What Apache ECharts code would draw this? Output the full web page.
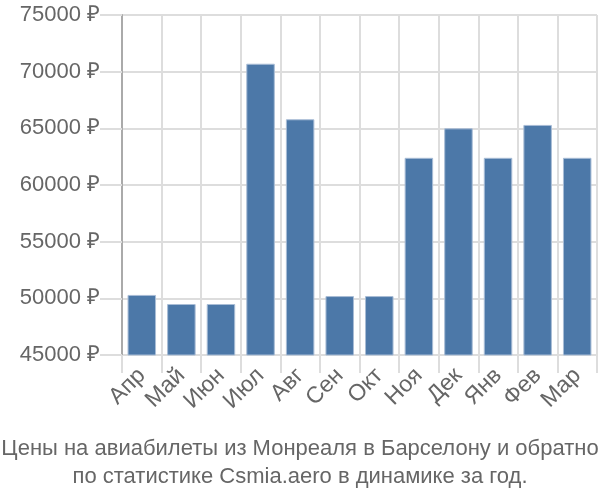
<!DOCTYPE html>
<html>
<head>
<meta charset="utf-8">
<script src="https://cdn.jsdelivr.net/npm/echarts@6/dist/echarts.min.js"></script>
<style>html,body{margin:0;padding:0;background:#fff}#c{width:600px;height:500px}</style>
</head>
<body>
<div id="c"></div>
<script>
const categories = ["Апр","Май","Июн","Июл","Авг","Сен","Окт","Ноя","Дек","Янв","Фев","Мар"];
const prices = [50300,49500,49500,70700,65800,50200,50200,62400,65000,62400,65300,62400];
const titleLines = ["Цены на авиабилеты из Монреаля в Барселону и обратно","по статистике Csmia.aero в динамике за год."];
const yMin = 45000, yMax = 75000, yStep = 5000;

const chart = echarts.init(document.getElementById('c'));
chart.setOption({
  animation: false,
  textStyle: {fontFamily: 'Liberation Sans'},
  title: {
    text: titleLines.join('\n'),
    left: 'center',
    top: 430,
    textStyle: {fontSize: 22, fontWeight: 'normal', color: '#666', lineHeight: 28, fontFamily: 'Liberation Sans'}
  },
  grid: {left: 122, right: 3, top: 15, bottom: 145},
  xAxis: {
    type: 'category',
    data: categories,
    axisLine: {lineStyle: {color: '#ddd'}},
    axisTick: {show: true, length: 18, lineStyle: {color: '#ddd', width: 2}},
    splitLine: {show: true, lineStyle: {color: '#ddd', width: 2}},
    axisLabel: {rotate: 45, fontSize: 23, color: '#666', margin: 17, interval: 0}
  },
  yAxis: {
    type: 'value',
    min: yMin, max: yMax, interval: yStep,
    axisLine: {show: true, lineStyle: {color: '#aaa', width: 2}},
    axisTick: {show: true, length: 22, lineStyle: {color: '#ddd', width: 2}},
    splitLine: {lineStyle: {color: '#ddd', width: 2}},
    axisLabel: {formatter: v => v + ' ₽', fontSize: 22, color: '#666', margin: 22}
  },
  series: [{
    type: 'bar',
    data: prices,
    barCategoryGap: '28%',
    itemStyle: {color: '#4c78a8', borderColor: '#a9bdd6', borderWidth: 1}
  }]
});
</script>
</body>
</html>
